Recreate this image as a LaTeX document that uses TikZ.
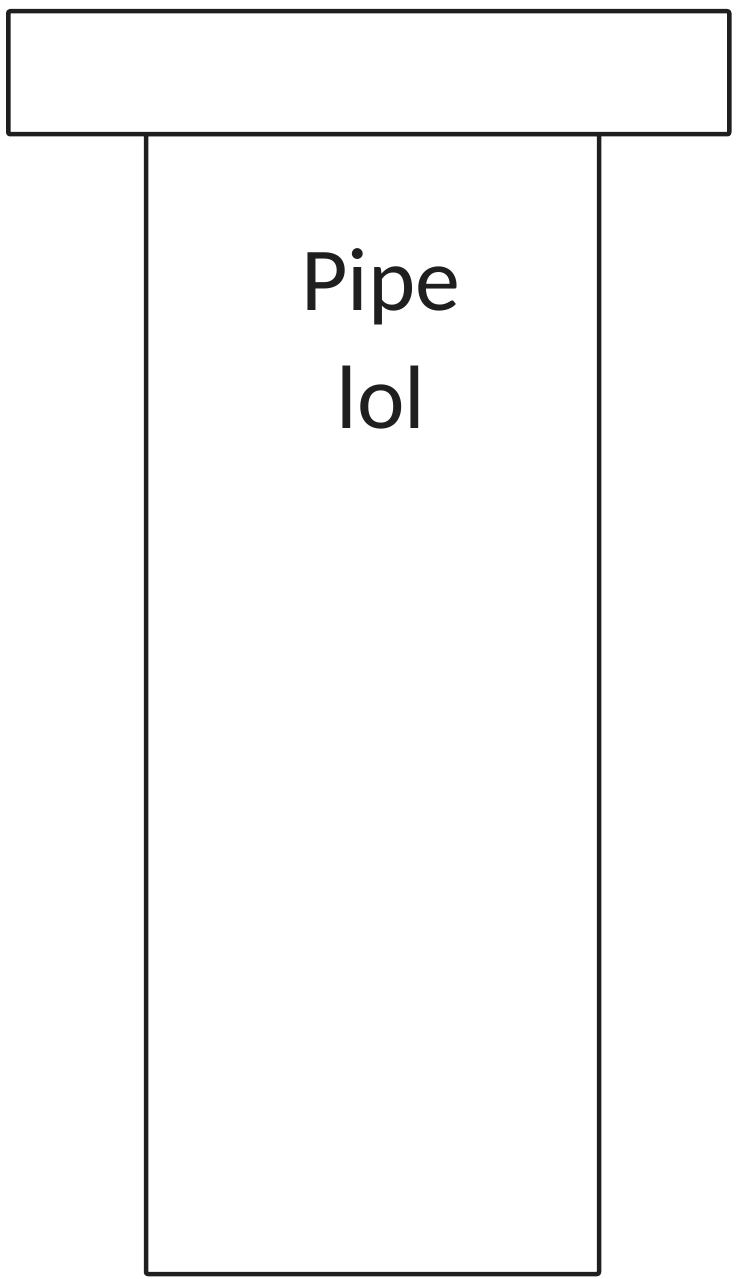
\documentclass[tikz,border=0pt]{standalone}
\usepackage{fontspec}
\setmainfont{Carlito}
\begin{document}
\begin{tikzpicture}[x=1pt,y=-1pt,
  pipeline/.style={draw=black!88,line width=4.5pt,line join=round,rounded corners=2pt},
  label/.style={font=\fontsize{90}{118}\selectfont,text=black!88,align=center,inner sep=0pt}]
\useasboundingbox (0,0) rectangle (738,1279);
\fill[white] (0,0) rectangle (738,1279);
\draw[pipeline] (146,134) rectangle (599,1274) coordinate (bodyc);
\node[pipeline,fill=white,minimum width=721pt,minimum height=123pt,inner sep=0pt,anchor=north west] (cap) at (6,9) {};
\node[label,anchor=base] (txt) at (381,428) {Pipe\\lol};
\end{tikzpicture}
\end{document}
